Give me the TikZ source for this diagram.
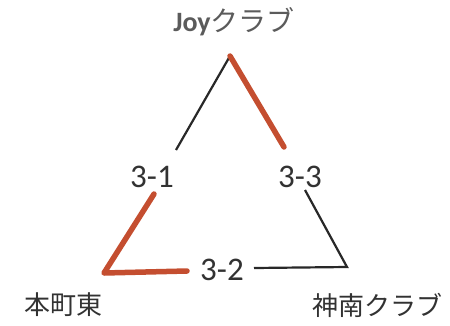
\documentclass[tikz,border=0pt]{standalone}
\usepackage{fontspec}
\setmainfont{Carlito}
\newfontfamily\jpfont{Noto Sans CJK JP}
\definecolor{hl}{RGB}{196,78,48}
\definecolor{ink}{RGB}{40,40,40}
\definecolor{txt}{RGB}{50,50,50}
\begin{document}
\begin{tikzpicture}[x=1pt,y=-1pt,
  lbl/.style={inner sep=0pt,text=txt,font=\fontsize{33}{33}\selectfont},
  jp/.style={inner sep=0pt,text=txt,font=\jpfont\fontsize{26}{26}\selectfont},
  thin line/.style={draw=ink,line width=2.2pt},
  red line/.style={draw=hl,line width=5.5pt,line cap=round,line join=round}]
\useasboundingbox (0,0) rectangle (450,325);
\node[inner sep=0pt,text=txt!80] (joy) at (234,22) {\fontsize{28}{28}\selectfont\textbf{Joy}{\jpfont クラブ}};
\node[lbl] (n31) at (152,177) {3-1};
\node[lbl] (n33) at (300,177) {3-3};
\node[lbl] (n32) at (222,270) {3-2};
\node[jp] (hon) at (63,305) {本町東};
\node[jp] (shin) at (377,305) {神南クラブ};
\coordinate (apex) at (230,56);
\coordinate (lv) at (104,273);
\coordinate (rv) at (347,267);
\coordinate (a1) at (176,150);
\coordinate (a3) at (284,147);
\coordinate (b1) at (154,194);
\coordinate (b3) at (305,190);
\coordinate (c1) at (187,271);
\coordinate (c2) at (254,268);
\draw[thin line] (apex) -- (a1);
\draw[thin line] (c2) -- (rv) -- (b3);
\draw[red line] (apex) -- (a3);
\draw[red line] (b1) -- (lv) -- (c1);
\end{tikzpicture}
\end{document}
